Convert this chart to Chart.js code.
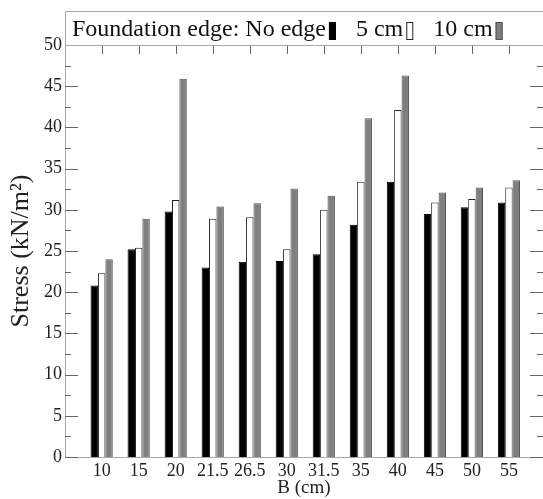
<!DOCTYPE html>
<html>
<head>
<meta charset="utf-8">
<script src="https://cdn.jsdelivr.net/npm/chart.js@4"></script>
<style>
html,body{margin:0;padding:0;background:#fff;}
#wrap{width:543px;height:499px;position:relative;}
</style>
</head>
<body>
<div id="wrap"><canvas id="c" width="543" height="499"></canvas></div>
<script>
// ---- data ----
const categories = ['10','15','20','21.5','26.5','30','31.5','35','40','45','50','55'];
const noEdge = [20.8, 25.2, 29.8, 23.0, 23.7, 23.8, 24.6, 28.2, 33.4, 29.5, 30.3, 30.9];
const edge5  = [22.3, 25.4, 31.2, 28.9, 29.1, 25.2, 30.0, 33.4, 42.1, 30.9, 31.3, 32.7];
const edge10 = [24.0, 28.9, 45.9, 30.4, 30.8, 32.6, 31.7, 41.1, 46.3, 32.1, 32.7, 33.6];
const seriesNames = ['No edge', '5 cm', '10 cm'];
const legendTitle = 'Foundation edge:';
const yTicks = [0,5,10,15,20,25,30,35,40,45,50];
const xTitle = 'B (cm)';
const yTitle = 'Stress (kN/m\u00B2)';

const SERIF = '"Liberation Serif", "Times New Roman", serif';
const frameColor = '#a8a8a8';
const tickColor = '#666';

function toPoints(arr){ return arr.map((v,i)=>({x:i, y:v})); }

const datasets = [
  {label: seriesNames[0], data: toPoints(noEdge), backgroundColor:'#000000', borderColor:'#000000', borderWidth:1},
  {label: seriesNames[1], data: toPoints(edge5),  backgroundColor:'#ffffff', borderColor:'#222222', borderWidth:1},
  {label: seriesNames[2], data: toPoints(edge10), backgroundColor:'#7f7f7f', borderColor:'#505050', borderWidth:1}
];

const tickPlugin = {
  id: 'innerTicks',
  beforeDatasetsDraw(chart){
    const {ctx, chartArea:a, scales:{x, y}} = chart;
    ctx.save();
    ctx.strokeStyle = tickColor;
    ctx.lineWidth = 1;
    ctx.beginPath();
    yTicks.forEach((v, i) => {
      const py = Math.round(y.getPixelForValue(v)) + 0.5;
      ctx.moveTo(a.left, py); ctx.lineTo(a.left + 13, py);
      ctx.moveTo(a.right, py); ctx.lineTo(a.right - 13, py);
      if (i < yTicks.length - 1) {
        const pm = Math.round(y.getPixelForValue((v + yTicks[i+1]) / 2)) + 0.5;
        ctx.moveTo(a.left, pm); ctx.lineTo(a.left + 6, pm);
        ctx.moveTo(a.right, pm); ctx.lineTo(a.right - 6, pm);
      }
    });
    categories.forEach((c, i) => {
      const px = Math.round(x.getPixelForValue(i)) + 0.5;
      ctx.moveTo(px, a.top); ctx.lineTo(px, a.top + 9);
    });
    ctx.stroke();
    ctx.restore();
  },
  afterDraw(chart){
    const {ctx, chartArea:a} = chart;
    ctx.save();
    // legend box on top of plot
    ctx.strokeStyle = frameColor;
    ctx.lineWidth = 1;
    ctx.beginPath();
    ctx.moveTo(a.left + 0.5, a.top); ctx.lineTo(a.left + 0.5, 11.5); ctx.lineTo(chart.width, 11.5);
    ctx.moveTo(a.left, a.top + 0.5); ctx.lineTo(chart.width, a.top + 0.5);
    ctx.stroke();
    ctx.font = '24px ' + SERIF;
    ctx.textBaseline = 'alphabetic';
    let xPos = a.left + 7;
    const baseY = 36;
    chart.data.datasets.forEach((ds, i) => {
      const txt = (i === 0 ? legendTitle + ' ' : '') + ds.label;
      ctx.fillStyle = '#111';
      ctx.fillText(txt, xPos, baseY);
      xPos += ctx.measureText(txt).width + 3;
      ctx.fillStyle = ds.backgroundColor;
      ctx.fillRect(xPos, 22, 7, 18);
      ctx.strokeStyle = ds.borderColor;
      ctx.strokeRect(xPos + 0.5, 22.5, 6, 17);
      xPos += 7 + 20;
    });
    ctx.restore();
  }
};

new Chart(document.getElementById('c'), {
  type: 'bar',
  data: {datasets},
  plugins: [tickPlugin],
  options: {
    responsive: false,
    animation: false,
    layout: {padding: {top: 45, right: 0, left: 0, bottom: 0}},
    plugins: {legend: {display: false}, tooltip: {enabled: false}},
    datasets: {bar: {categoryPercentage: 0.6, barPercentage: 1.0}},
    scales: {
      x: {
        type: 'linear',
        min: -0.99,
        max: 11.92,
        offset: false,
        afterBuildTicks(scale){ scale.ticks = categories.map((c, i) => ({value: i})); },
        afterFit(scale){ scale.height = 42; },
        grid: {display: false, drawTicks: false},
        border: {display: true, color: frameColor},
        ticks: {
          autoSkip: false, maxRotation: 0, padding: 3,
          color: '#222', font: {family: SERIF, size: 18},
          callback: (v) => categories[v]
        },
        title: {display: true, text: xTitle, color: '#222', font: {family: SERIF, size: 19}, padding: {top: 0, bottom: 0}}
      },
      y: {
        min: 0, max: 50,
        afterBuildTicks(scale){ scale.ticks = yTicks.map(v => ({value: v})); },
        afterFit(scale){ scale.width = 65; },
        grid: {display: false, drawTicks: false},
        border: {display: true, color: frameColor},
        ticks: {padding: 3, color: '#222', font: {family: SERIF, size: 18}},
        title: {display: true, text: yTitle, color: '#222', font: {family: SERIF, size: 26}, padding: {top: 6, bottom: 0}}
      }
    }
  }
});
</script>
</body>
</html>
